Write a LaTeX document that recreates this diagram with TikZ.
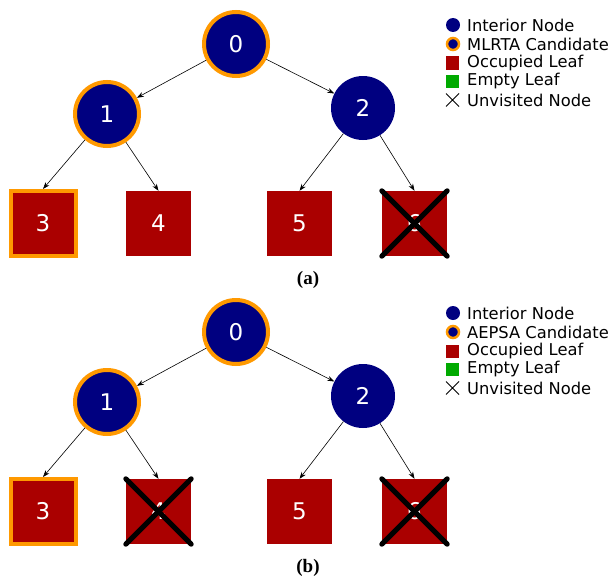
\documentclass[tikz,border=0pt]{standalone}
\usepackage{fontspec}
\setmainfont{DejaVu Sans}
\newfontfamily\capfont{Liberation Serif}
\usetikzlibrary{shapes.misc,arrows.meta}

\definecolor{navy}{RGB}{0,0,128}
\definecolor{leafred}{RGB}{170,0,0}
\definecolor{leafgreen}{RGB}{0,170,0}
\definecolor{candorange}{RGB}{255,153,0}

\tikzset{
  inner/.style={circle,fill=navy,minimum size=64pt,inner sep=0pt,text=white,
    font=\fontsize{23}{23}\selectfont},
  cand/.style={draw=candorange,line width=4pt},
  leaf/.style={rectangle,fill=leafred,minimum size=65pt,inner sep=0pt,text=white,
    font=\fontsize{23}{23}\selectfont},
  unvisited/.style={line width=5pt,line cap=round},
  legdot/.style={circle,fill=navy,minimum size=14pt,inner sep=0pt},
  legbox/.style={rectangle,minimum size=13pt,inner sep=0pt},
  legtext/.style={anchor=west,inner sep=0pt,font=\fontsize{16.3}{16}\selectfont},
  edge/.style={->,>={Stealth[length=7pt,width=5pt]},line width=0.6pt}
}

\begin{document}
\begin{tikzpicture}[x=1pt,y=-1pt]
\useasboundingbox (0,0) rectangle (615,578);

\foreach \p/\dy/\method in {a/0/MLRTA,b/288/AEPSA}{
\begin{scope}[yshift=-\dy pt]
\node[inner,cand] (\p0) at (236,44) {0};
\node[inner,cand] (\p1) at (107,114) {1};
\node[inner] (\p2) at (363,108) {2};

\node[leaf,draw=candorange,line width=4pt] (\p3) at (43,223.5) {3};
\node[leaf] (\p4) at (158.5,223.5) {4};
\node[leaf] (\p5) at (299.5,223.5) {5};
\node[leaf] (\p6) at (414.5,223.5) {6};

\draw[edge] (\p0) -- (\p1);
\draw[edge] (\p0) -- (\p2);
\draw[edge] (\p1) -- (\p3.north);
\draw[edge] (\p1) -- (\p4.north);
\draw[edge] (\p2) -- (\p5.north);
\draw[edge] (\p2) -- (\p6.north);

\draw[unvisited] (\p6.north west) -- (\p6.south east);
\draw[unvisited] (\p6.north east) -- (\p6.south west);

\node[legdot] (\p k1) at (453,25) {};
\node[legdot,draw=candorange,line width=2.5pt,minimum size=12pt] (\p k2) at (453,44) {};
\node[legbox,fill=leafred] (\p k3) at (452.5,63) {};
\node[legbox,fill=leafgreen] (\p k4) at (452.5,81) {};
\node[draw,cross out,minimum size=12pt,inner sep=0pt,line width=1pt] (\p k5) at (452.5,100) {};

\node[legtext] (\p t1) at (467,25) {Interior Node};
\node[legtext] (\p t2) at (467,44) {\method\ Candidate};
\node[legtext] (\p t3) at (467,63) {Occupied Leaf};
\node[legtext] (\p t4) at (467,81) {Empty Leaf};
\node[legtext] (\p t5) at (467,100) {Unvisited Node};

\node[font=\capfont\bfseries\fontsize{19}{19}\selectfont] (\p cap) at (308,280) {(\p)};
\end{scope}}

\draw[unvisited] (b4.north west) -- (b4.south east);
\draw[unvisited] (b4.north east) -- (b4.south west);

\end{tikzpicture}
\end{document}
